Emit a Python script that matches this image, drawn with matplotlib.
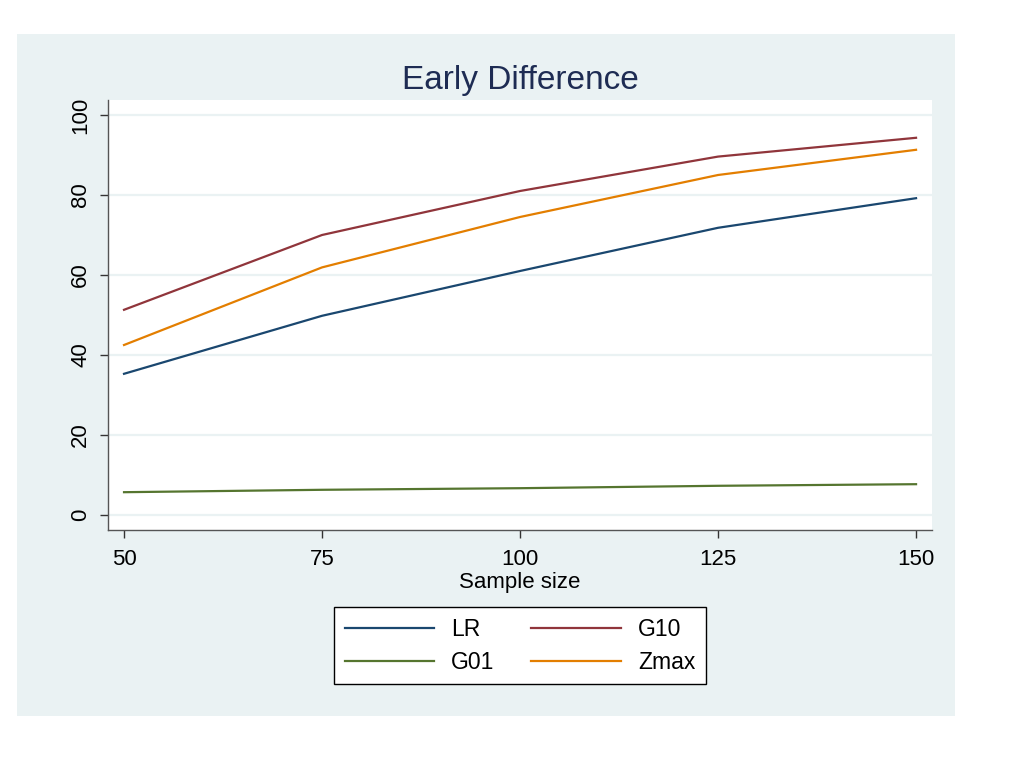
import matplotlib.pyplot as plt

plt.rcParams['font.family'] = ['Liberation Sans', 'DejaVu Sans']

# sample sizes and early-difference values
sample_size = [50, 75, 100, 125, 150]
lr = [35.3, 49.8, 61.0, 71.8, 79.2]
g10 = [51.3, 70.0, 81.0, 89.6, 94.3]
g01 = [5.7, 6.3, 6.7, 7.3, 7.7]
zmax = [42.5, 61.9, 74.5, 85.0, 91.3]

navy = '#1a476f'
maroon = '#90353b'
green = '#55752f'
orange = '#e37e00'
bg = '#eaf2f3'

fig = plt.figure(figsize=(10.24, 7.68), dpi=100)
fig.patch.set_facecolor('white')

# Stata-like graph region behind everything
bgax = fig.add_axes([0.0166, 0.0677, 0.916, 0.888], zorder=-1)
bgax.set_facecolor(bg)
bgax.set_xticks([])
bgax.set_yticks([])
for s in bgax.spines.values():
    s.set_visible(False)

ax = fig.add_axes([0.1055, 0.3099, 0.8047, 0.5599])
ax.set_facecolor('white')

ax.plot(sample_size, lr, color=navy, lw=1.6, label='LR')
ax.plot(sample_size, g10, color=maroon, lw=1.6, label='G10')
ax.plot(sample_size, g01, color=green, lw=1.6, label='G01')
ax.plot(sample_size, zmax, color=orange, lw=1.6, label='Zmax')

ax.set_xlim(47.98, 152.02)
ax.set_ylim(-3.75, 103.75)
ax.set_xticks(sample_size)
ax.set_yticks([0, 20, 40, 60, 80, 100])
ax.grid(axis='y', color=bg, lw=1.6)
ax.set_axisbelow(True)

for s in ['top', 'right']:
    ax.spines[s].set_visible(False)
for s in ['left', 'bottom']:
    ax.spines[s].set_color('#555555')
    ax.spines[s].set_linewidth(1.0)

ax.tick_params(axis='both', direction='out', length=6, width=1, color='#333333',
               labelsize=16, pad=8)
plt.setp(ax.get_yticklabels(), rotation=90, va='center')
ax.tick_params(axis='y', pad=6)

ax.set_xlabel('Sample size', fontsize=16, labelpad=1)
ax.set_title('Early Difference', fontsize=24, color='#1e2c53', pad=8)

# legend in 2 columns, order LR, G10 / G01, Zmax
handles, labels = ax.get_legend_handles_labels()
order = [0, 2, 1, 3]
leg = fig.legend([handles[i] for i in order], [labels[i] for i in order],
                 loc='center', bbox_to_anchor=(0.5078, 0.1589), ncol=2,
                 fontsize=16.5, frameon=True, fancybox=False,
                 handlelength=3.9, handletextpad=0.75, columnspacing=1.6,
                 labelspacing=0.45, borderpad=0.45)
leg.get_frame().set_edgecolor('black')
leg.get_frame().set_facecolor('white')
leg.get_frame().set_alpha(1)
leg.get_frame().set_linewidth(1.0)

fig.savefig('out.png', dpi=100)
